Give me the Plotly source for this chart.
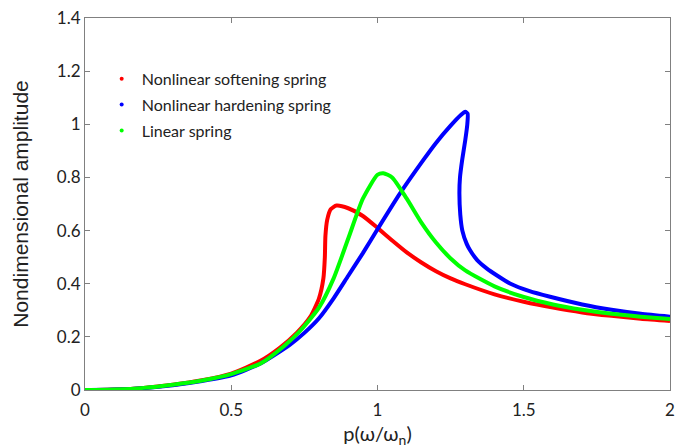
import plotly.graph_objects as go

# Frequency ratio p(ω/ωn) and nondimensional amplitude
soft_x = [0, 0.1, 0.2, 0.3, 0.4, 0.5, 0.6, 0.667, 0.724, 0.77, 0.8, 0.815, 0.82, 0.822, 0.828, 0.84, 0.86, 0.9, 0.95, 1.0, 1.05, 1.1, 1.15, 1.2, 1.25, 1.3, 1.4, 1.5, 1.6, 1.7, 1.8, 1.9, 2.0]
soft_y = [0, 0.002, 0.008, 0.02, 0.037, 0.062, 0.11, 0.16, 0.215, 0.275, 0.345, 0.42, 0.5, 0.58, 0.64, 0.68, 0.694, 0.684, 0.655, 0.61, 0.563, 0.518, 0.48, 0.447, 0.42, 0.398, 0.36, 0.332, 0.31, 0.292, 0.279, 0.268, 0.26]

hard_x = [0, 0.1, 0.2, 0.3, 0.4, 0.5, 0.6, 0.7, 0.75, 0.8, 0.85, 0.9, 0.95, 1.0, 1.077, 1.157, 1.2, 1.25, 1.285, 1.3, 1.308, 1.307, 1.3, 1.29, 1.282, 1.28, 1.283, 1.29, 1.305, 1.316, 1.34, 1.373, 1.41, 1.453, 1.52, 1.59, 1.7, 1.8, 1.9, 2.0]
hard_y = [0, 0.002, 0.007, 0.018, 0.034, 0.055, 0.1, 0.17, 0.215, 0.27, 0.345, 0.43, 0.515, 0.605, 0.74, 0.866, 0.93, 0.995, 1.035, 1.047, 1.04, 1.0, 0.94, 0.87, 0.8, 0.74, 0.66, 0.6, 0.55, 0.527, 0.49, 0.458, 0.43, 0.401, 0.372, 0.351, 0.322, 0.302, 0.287, 0.276]

lin_x = [0, 0.1, 0.2, 0.3, 0.4, 0.5, 0.6, 0.68, 0.735, 0.8, 0.85, 0.9, 0.95, 1.0, 1.02, 1.05, 1.1, 1.15, 1.2, 1.25, 1.3, 1.4, 1.5, 1.6, 1.7, 1.8, 1.9, 2.0]
lin_y = [0, 0.002, 0.008, 0.02, 0.036, 0.06, 0.1, 0.165, 0.222, 0.31, 0.42, 0.57, 0.72, 0.81, 0.816, 0.8, 0.72, 0.63, 0.555, 0.495, 0.45, 0.39, 0.35, 0.322, 0.302, 0.287, 0.276, 0.267]

series_names = ["Nonlinear softening spring", "Nonlinear hardening spring", "Linear spring"]
series_colors = ["#ff0000", "#0000ff", "#00ff00"]

x_ticks = [0, 0.5, 1, 1.5, 2]
x_ticktext = ["0", "0.5", "1", "1.5", "2"]
y_ticks = [0, 0.2, 0.4, 0.6, 0.8, 1.0, 1.2, 1.4]
y_ticktext = ["0", "0.2", "0.4", "0.6", "0.8", "1", "1.2", "1.4"]

fig = go.Figure()
data = [(soft_x, soft_y), (hard_x, hard_y), (lin_x, lin_y)]
for (xs, ys), name, color in zip(data, series_names, series_colors):
    fig.add_trace(go.Scatter(x=xs, y=ys, mode="lines", name=name,
                             line=dict(color=color, width=4, shape="spline", smoothing=0.6),
                             showlegend=False))
for name, color in zip(series_names, series_colors):
    fig.add_trace(go.Scatter(x=[None], y=[None], mode="markers", name=name,
                             marker=dict(color=color, size=4), legendgroup=name))

tick_font = dict(family="Lato, Open Sans, sans-serif", size=17, color="#222222")
axis_common = dict(showline=True, linecolor="#808080", linewidth=1, mirror="ticks",
                   ticks="inside", ticklen=5, tickcolor="#808080", showgrid=False,
                   zeroline=False, automargin=False, tickfont=tick_font)

fig.update_layout(
    width=696, height=448,
    margin=dict(l=85, r=26, t=18, b=58),
    paper_bgcolor="white", plot_bgcolor="white",
    xaxis=dict(range=[0, 2], tickvals=x_ticks, ticktext=x_ticktext, ticklabelstandoff=5,
               title=dict(text="p(ω/ω<sub>n</sub>)", font=dict(family="Lato, Open Sans, sans-serif", size=20, color="#222222"), standoff=14),
               **axis_common),
    yaxis=dict(range=[0, 1.4], tickvals=y_ticks, ticktext=y_ticktext,
               title=dict(text="Nondimensional amplitude", font=dict(family="Liberation Sans, Arial, sans-serif", size=21, color="#222222"), standoff=22),
               **axis_common),
    legend=dict(x=0.0285, y=0.882, xanchor="left", yanchor="top", bgcolor="rgba(0,0,0,0)",
                font=dict(family="Lato, Open Sans, sans-serif", size=16, color="#222222"),
                itemwidth=30, tracegroupgap=2, traceorder="grouped"),
)

fig.write_html("out.html", config={"displayModeBar": False},
               post_script="document.body.style.margin='0';document.body.style.overflow='hidden';")
